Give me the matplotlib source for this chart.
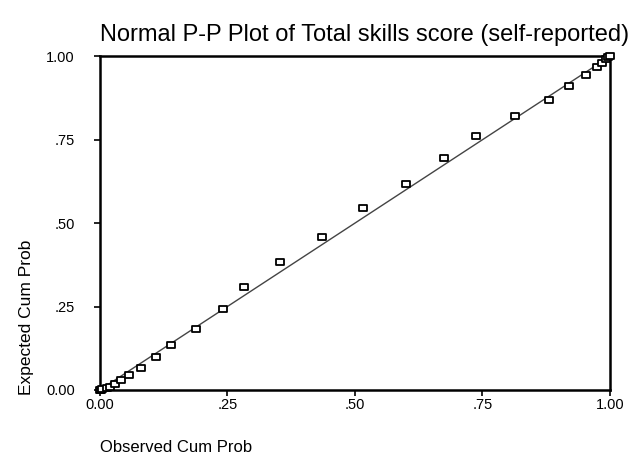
import numpy as np
import matplotlib
matplotlib.use('Agg')
import matplotlib.pyplot as plt
from matplotlib.path import Path

# observed vs expected cumulative probabilities
observed = [0.000, 0.002, 0.005, 0.014, 0.020, 0.029, 0.041, 0.057, 0.081, 0.110, 0.140,
            0.189, 0.241, 0.282, 0.353, 0.436, 0.515, 0.600, 0.675, 0.738, 0.813,
            0.880, 0.919, 0.953, 0.974, 0.984, 0.993, 0.997, 1.000]
expected = [0.000, 0.001, 0.002, 0.006, 0.009, 0.018, 0.030, 0.044, 0.065, 0.098, 0.136,
            0.184, 0.243, 0.309, 0.384, 0.458, 0.544, 0.618, 0.695, 0.760, 0.822,
            0.869, 0.911, 0.943, 0.967, 0.979, 0.992, 0.997, 1.000]
ticks = [0, 0.25, 0.5, 0.75, 1.0]
tick_labels = ['0.00', '.25', '.50', '.75', '1.00']

plt.rcParams['font.family'] = ['Liberation Sans', 'DejaVu Sans']

fig = plt.figure(figsize=(6.36, 4.62), dpi=100)
ax = fig.add_axes([0.157, 0.156, 0.802, 0.722])

# reference line
ax.plot([0, 1], [0, 1], color='#444444', lw=1.0, zorder=1)

# slightly wide open rectangle marker
rect = Path([(-1, -0.7), (1, -0.7), (1, 0.7), (-1, 0.7), (-1, -0.7)],
            [Path.MOVETO, Path.LINETO, Path.LINETO, Path.LINETO, Path.CLOSEPOLY])
ax.plot(observed, expected, ls='none', marker=rect, ms=6, mfc='white',
        mec='black', mew=1.3, zorder=3, clip_on=False)

ax.set_xlim(0, 1)
ax.set_ylim(0, 1)
ax.set_xticks(ticks)
ax.set_xticklabels(tick_labels)
ax.set_yticks(ticks)
ax.set_yticklabels(tick_labels)
ax.tick_params(direction='out', length=4, width=1.2, labelsize=10.5)
ax.tick_params(axis='y', pad=14)
ax.tick_params(axis='x', pad=2)
for s in ax.spines.values():
    s.set_linewidth(1.8)

fig.text(365 / 636, 1 - 35 / 462, 'Normal P-P Plot of Total skills score (self-reported)',
         ha='center', va='center', fontsize=17)
fig.text(100 / 636, 1 - 448 / 462, 'Observed Cum Prob', ha='left', va='center', fontsize=12)
fig.text(26 / 636, 1 - 395 / 462, 'Expected Cum Prob', ha='center', va='bottom',
         rotation=90, fontsize=12.5)

fig.savefig('out.png', dpi=100)
